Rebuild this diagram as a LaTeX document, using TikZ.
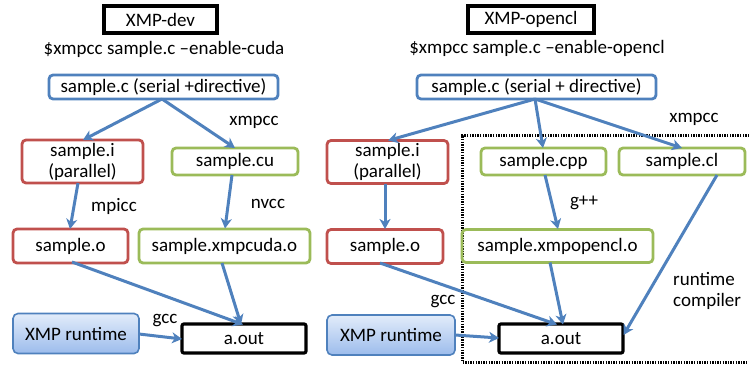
\documentclass[tikz,border=0pt]{standalone}
\usepackage{fontspec}
\setmainfont{Carlito}
\usetikzlibrary{arrows.meta}
\definecolor{oblue}{HTML}{4F81BD}
\definecolor{ored}{HTML}{C0504D}
\definecolor{ogreen}{HTML}{9BBB59}
\definecolor{gtop}{HTML}{E2ECFA}
\definecolor{gbot}{HTML}{9CBCEC}
\begin{document}
\begin{tikzpicture}[x=1pt,y=-1pt,
  every node/.style={font=\fontsize{19}{21}\selectfont, inner sep=0pt, align=center},
  box/.style={draw, rounded corners=4pt, line width=2.8pt},
  srcbox/.style={box, draw=oblue},
  redbox/.style={box, draw=ored},
  greenbox/.style={box, draw=ogreen},
  blackbox/.style={draw=black, line width=3.2pt, rounded corners=2pt},
  titlebox/.style={draw=black, line width=3.2pt},
  rtbox/.style={draw=oblue, line width=1.6pt, rounded corners=5pt, top color=gtop, bottom color=gbot},
  flow/.style={draw=oblue, line width=3pt, -{Stealth[length=10pt,width=11pt,inset=3pt]}},
  lbl/.style={}
]
\useasboundingbox (0,0) rectangle (749,364);
% ---------- left panel ----------
\node[titlebox, minimum width=113pt, minimum height=27pt] (t1) at (160.5,19.5) {XMP-dev};
\node[lbl] (c1) at (164,49) {\$xmpcc sample.c –enable-cuda};
\node[srcbox, minimum width=229pt, minimum height=24pt] (s1) at (163.5,87) {sample.c (serial +directive)};
\node[redbox, minimum width=121pt, minimum height=43pt] (i1) at (82.5,161.5) {sample.i\\(parallel)};
\node[greenbox, minimum width=126pt, minimum height=27pt] (cu1) at (235,161.5) {sample.cu};
\node[lbl] (x1) at (254,122) {xmpcc};
\node[redbox, minimum width=115pt, minimum height=34pt] (o1) at (70.5,246) {sample.o};
\node[greenbox, minimum width=171pt, minimum height=34pt] (xo1) at (224.5,246) {sample.xmpcuda.o};
\node[lbl] (mp1) at (114,206) {mpicc};
\node[lbl] (nv1) at (268,204) {nvcc};
\node[rtbox, minimum width=126pt, minimum height=40pt] (r1) at (76,333.5) {XMP runtime};
\node[blackbox, minimum width=124pt, minimum height=29pt] (a1) at (244,338.5) {a.out};
\node[lbl] (g1) at (165,321) {gcc};
\draw[flow] (162,99) -- (83,140);
\draw[flow] (162,99) -- (235,148);
\draw[flow] (78,183) -- (70,229);
\draw[flow] (232,175) -- (225,228.5);
\draw[flow] (72,262) -- (243,324.5);
\draw[flow] (222,263) -- (241,324.5);
\draw[flow] (139,334) -- (182,339);
% ---------- right panel ----------
\draw[line width=3pt, dash pattern=on 1.4pt off 1.2pt] (770,135) -- (462,135) -- (462,362) -- (770,362);
\node[titlebox, minimum width=126pt, minimum height=27pt] (t2) at (531,19.5) {XMP-opencl};
\node[lbl] (c2) at (537,48) {\$xmpcc sample.c –enable-opencl};
\node[srcbox, minimum width=239pt, minimum height=24pt] (s2) at (536.5,87) {sample.c (serial + directive)};
\node[redbox, minimum width=121pt, minimum height=43pt] (i2) at (387.5,162) {sample.i\\(parallel)};
\node[greenbox, minimum width=125pt, minimum height=27pt] (cpp2) at (543.5,161.5) {sample.cpp};
\node[greenbox, minimum width=126pt, minimum height=27pt] (cl2) at (682,161.5) {sample.cl};
\node[lbl] (x2) at (694,119) {xmpcc};
\node[redbox, minimum width=116pt, minimum height=34pt] (o2) at (385,246.5) {sample.o};
\node[greenbox, minimum width=191pt, minimum height=33pt] (xo2) at (557.5,246) {sample.xmpopencl.o};
\node[lbl] (gpp2) at (584,203) {g++};
\node[lbl, align=left, anchor=west] (rc2) at (673,291) {runtime\\compiler};
\node[lbl] (g2) at (443,302) {gcc};
\node[rtbox, minimum width=128pt, minimum height=40pt] (r2) at (391,335) {XMP runtime};
\node[blackbox, minimum width=124pt, minimum height=29pt] (a2) at (561,338.5) {a.out};
\draw[flow] (535,99) -- (388,140.5);
\draw[flow] (535,99) -- (543,148);
\draw[flow] (535,99) -- (682,148);
\draw[flow] (385,183.5) -- (385,229);
\draw[flow] (545,175) -- (558,229);
\draw[flow] (717,175) -- (623.5,335);
\draw[flow] (380,263) -- (557,324.5);
\draw[flow] (550,262.5) -- (563,324.5);
\draw[flow] (455,335) -- (499,338);
\end{tikzpicture}
\end{document}
